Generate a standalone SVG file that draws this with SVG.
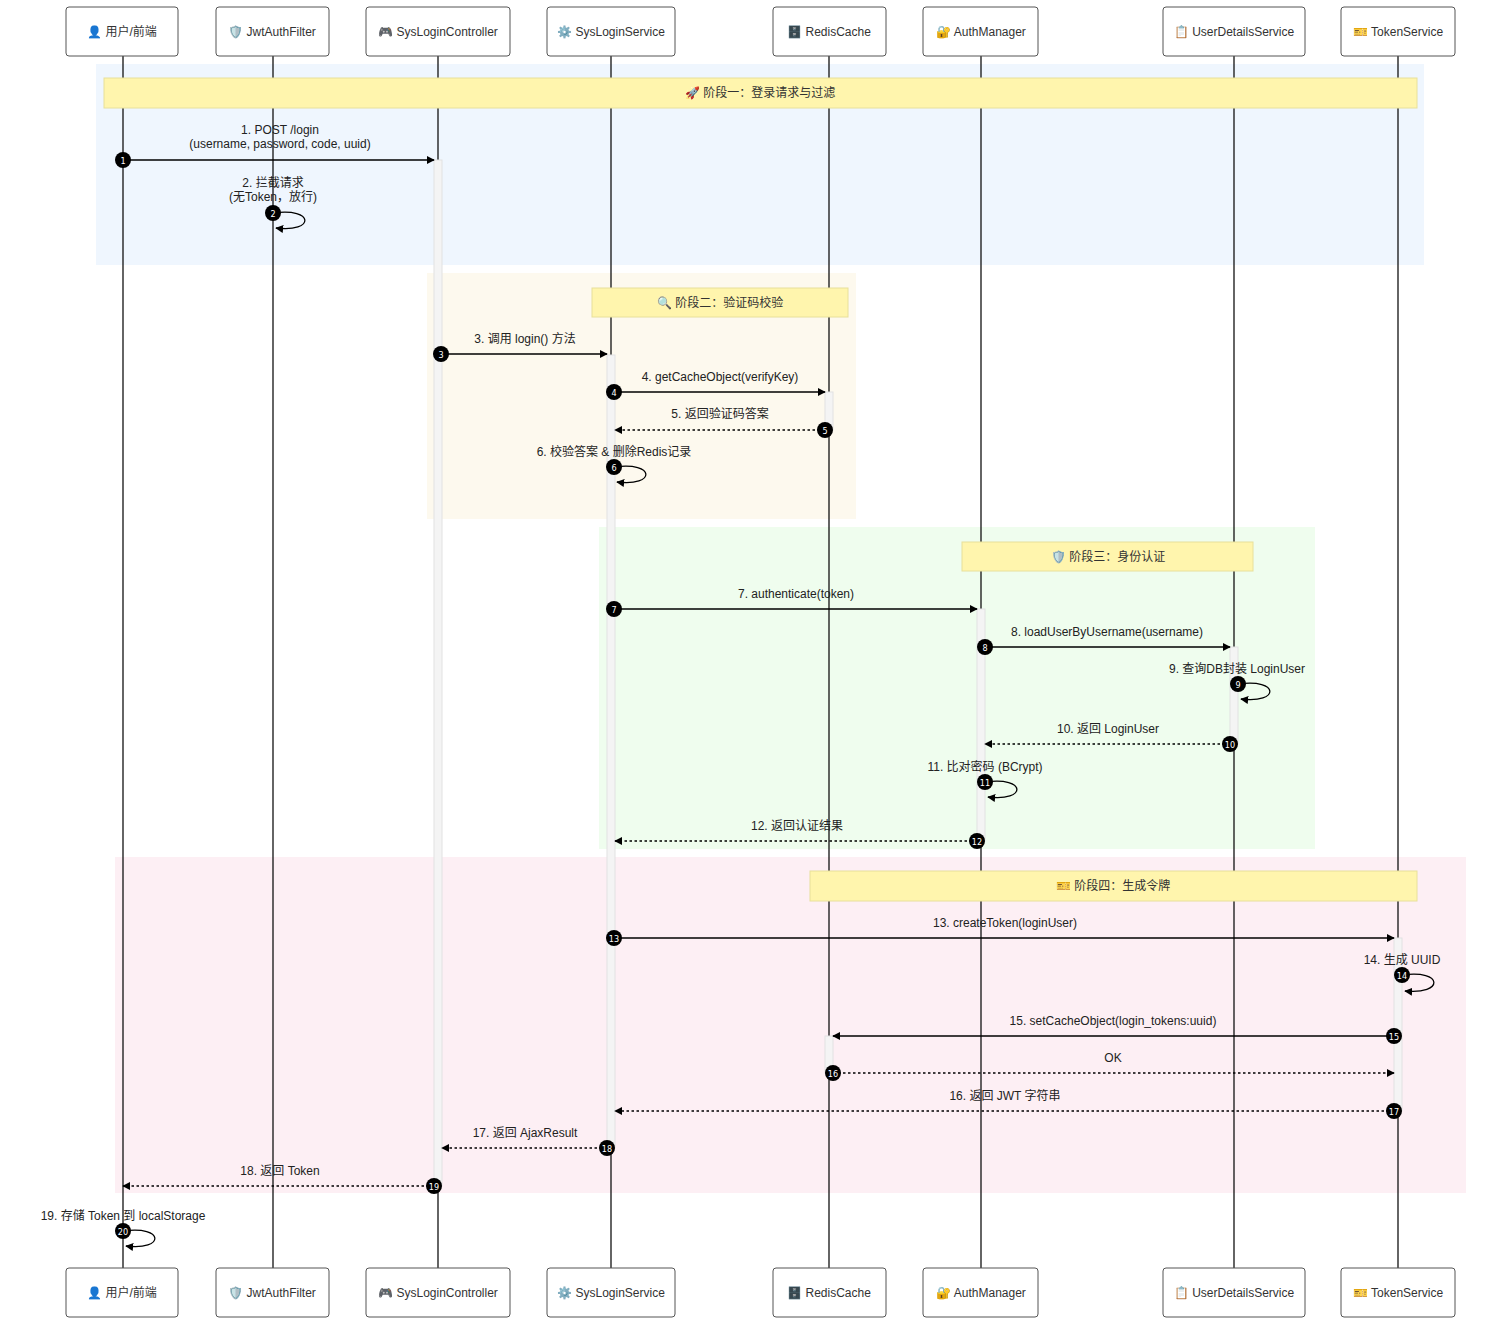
<svg xmlns="http://www.w3.org/2000/svg" width="1503" height="1325" viewBox="0 0 1503 1325">
<defs>
<marker id="ah" viewBox="0 0 10 10" refX="9" refY="5" markerWidth="8" markerHeight="8" markerUnits="userSpaceOnUse" orient="auto">
<path d="M0,0 L10,5 L0,10 z" fill="#000"/>
</marker>
<style>
text{font-family:"Liberation Sans","Noto Sans CJK SC",sans-serif;font-size:12px;fill:#333;text-anchor:middle}
.actor{fill:#fff;stroke:#555;stroke-width:1}
.life{stroke:#111;stroke-width:1.3}
.act{fill:#f4f4f4;stroke:#e2e2e2;stroke-width:1}
.note{fill:#fff5ad;stroke:#e8e09a;stroke-width:1}
.msg{stroke:#000;stroke-width:1.3;fill:none;marker-end:url(#ah)}
.dot{stroke-dasharray:2.5,2.5}
.badge circle{fill:#000}
.badge text{fill:#fff;font-size:9px;font-family:"DejaVu Sans Condensed","DejaVu Sans",sans-serif}
.lbl{fill:#222}
</style>
</defs>
<rect width="1503" height="1325" fill="#fff"/>
<g id="phases">
<rect x="96" y="64" width="1328" height="201" fill="#eff6fe"/>
<rect x="427" y="273" width="429" height="246" fill="#fdf9ee"/>
<rect x="599" y="527" width="716" height="322" fill="#effdee"/>
<rect x="115" y="857" width="1351" height="336" fill="#fdeff4"/>
</g>
<g id="lifelines">
<line class="life" x1="123" y1="56" x2="123" y2="1268"/>
<line class="life" x1="273" y1="56" x2="273" y2="1268"/>
<line class="life" x1="438" y1="56" x2="438" y2="1268"/>
<line class="life" x1="611" y1="56" x2="611" y2="1268"/>
<line class="life" x1="829" y1="56" x2="829" y2="1268"/>
<line class="life" x1="981" y1="56" x2="981" y2="1268"/>
<line class="life" x1="1234" y1="56" x2="1234" y2="1268"/>
<line class="life" x1="1398" y1="56" x2="1398" y2="1268"/>
</g>
<g id="activations">
<rect class="act" x="434" y="160" width="8" height="1026"/>
<rect class="act" x="607" y="355" width="8" height="793"/>
<rect class="act" x="825" y="392" width="8" height="38"/>
<rect class="act" x="977" y="609" width="8" height="232"/>
<rect class="act" x="1230" y="647" width="8" height="97"/>
<rect class="act" x="1394" y="938" width="8" height="173"/>
<rect class="act" x="825" y="1036" width="8" height="37"/>
</g>
<g id="labels">
<text class="lbl" x="280" y="134">1. POST /login</text>
<text class="lbl" x="280" y="148">(username, password, code, uuid)</text>
<text class="lbl" x="273" y="187">2. 拦截请求</text>
<text class="lbl" x="273" y="201">(无Token，放行)</text>
<text class="lbl" x="525" y="343">3. 调用 login() 方法</text>
<text class="lbl" x="720" y="381">4. getCacheObject(verifyKey)</text>
<text class="lbl" x="720" y="418">5. 返回验证码答案</text>
<text class="lbl" x="614" y="456">6. 校验答案 &amp; 删除Redis记录</text>
<text class="lbl" x="796" y="598">7. authenticate(token)</text>
<text class="lbl" x="1107" y="636">8. loadUserByUsername(username)</text>
<text class="lbl" x="1237" y="673">9. 查询DB封装 LoginUser</text>
<text class="lbl" x="1108" y="733">10. 返回 LoginUser</text>
<text class="lbl" x="985" y="771">11. 比对密码 (BCrypt)</text>
<text class="lbl" x="797" y="830">12. 返回认证结果</text>
<text class="lbl" x="1005" y="927">13. createToken(loginUser)</text>
<text class="lbl" x="1402" y="964">14. 生成 UUID</text>
<text class="lbl" x="1113" y="1025">15. setCacheObject(login_tokens:uuid)</text>
<text class="lbl" x="1113" y="1062">OK</text>
<text class="lbl" x="1005" y="1100">16. 返回 JWT 字符串</text>
<text class="lbl" x="525" y="1137">17. 返回 AjaxResult</text>
<text class="lbl" x="280" y="1175">18. 返回 Token</text>
<text class="lbl" x="123" y="1220">19. 存储 Token 到 localStorage</text>
</g>
<g id="notes">
<g id="note1"><rect class="note" x="104" y="78" width="1313" height="30"/><text x="760" y="97">🚀 阶段一：登录请求与过滤</text></g>
<g id="note2"><rect class="note" x="592" y="288" width="256" height="29"/><text x="720" y="307">🔍 阶段二：验证码校验</text></g>
<g id="note3"><rect class="note" x="962" y="542" width="291" height="29"/><text x="1108" y="561">🛡️ 阶段三：身份认证</text></g>
<g id="note4"><rect class="note" x="810" y="871" width="607" height="30"/><text x="1113" y="890">🎫 阶段四：生成令牌</text></g>
</g>
<g id="connectors">
<line class="msg" x1="123" y1="160" x2="434" y2="160"/>
<path class="msg" d="M273,213 C315,207 315,233 276,228"/>
<line class="msg" x1="441" y1="354" x2="607" y2="354"/>
<line class="msg" x1="614" y1="392" x2="825" y2="392"/>
<line class="msg dot" x1="825" y1="430" x2="615" y2="430"/>
<path class="msg" d="M614,467 C656,461 656,487 617,482"/>
<line class="msg" x1="614" y1="609" x2="977" y2="609"/>
<line class="msg" x1="985" y1="647" x2="1230" y2="647"/>
<path class="msg" d="M1238,684 C1280,678 1280,704 1241,699"/>
<line class="msg dot" x1="1230" y1="744" x2="985" y2="744"/>
<path class="msg" d="M985,782 C1027,776 1027,802 988,797"/>
<line class="msg dot" x1="977" y1="841" x2="615" y2="841"/>
<line class="msg" x1="614" y1="938" x2="1394" y2="938"/>
<path class="msg" d="M1402,975 C1444,969 1444,995 1405,991"/>
<line class="msg" x1="1394" y1="1036" x2="833" y2="1036"/>
<line class="msg dot" x1="833" y1="1073" x2="1394" y2="1073"/>
<line class="msg dot" x1="1394" y1="1111" x2="615" y2="1111"/>
<line class="msg dot" x1="607" y1="1148" x2="442" y2="1148"/>
<line class="msg dot" x1="434" y1="1186" x2="123" y2="1186"/>
<path class="msg" d="M123,1231 C165,1225 165,1251 126,1246"/>
</g>
<g id="badges">
<g class="badge"><circle cx="123" cy="160" r="8"/><text x="123" y="163.5">1</text></g>
<g class="badge"><circle cx="273" cy="213" r="8"/><text x="273" y="216.5">2</text></g>
<g class="badge"><circle cx="441" cy="354" r="8"/><text x="441" y="357.5">3</text></g>
<g class="badge"><circle cx="614" cy="392" r="8"/><text x="614" y="395.5">4</text></g>
<g class="badge"><circle cx="825" cy="430" r="8"/><text x="825" y="433.5">5</text></g>
<g class="badge"><circle cx="614" cy="467" r="8"/><text x="614" y="470.5">6</text></g>
<g class="badge"><circle cx="614" cy="609" r="8"/><text x="614" y="612.5">7</text></g>
<g class="badge"><circle cx="985" cy="647" r="8"/><text x="985" y="650.5">8</text></g>
<g class="badge"><circle cx="1238" cy="684" r="8"/><text x="1238" y="687.5">9</text></g>
<g class="badge"><circle cx="1230" cy="744" r="8"/><text x="1230" y="747.5">10</text></g>
<g class="badge"><circle cx="985" cy="782" r="8"/><text x="985" y="785.5">11</text></g>
<g class="badge"><circle cx="977" cy="841" r="8"/><text x="977" y="844.5">12</text></g>
<g class="badge"><circle cx="614" cy="938" r="8"/><text x="614" y="941.5">13</text></g>
<g class="badge"><circle cx="1402" cy="975" r="8"/><text x="1402" y="978.5">14</text></g>
<g class="badge"><circle cx="1394" cy="1036" r="8"/><text x="1394" y="1039.5">15</text></g>
<g class="badge"><circle cx="833" cy="1073" r="8"/><text x="833" y="1076.5">16</text></g>
<g class="badge"><circle cx="1394" cy="1111" r="8"/><text x="1394" y="1114.5">17</text></g>
<g class="badge"><circle cx="607" cy="1148" r="8"/><text x="607" y="1151.5">18</text></g>
<g class="badge"><circle cx="434" cy="1186" r="8"/><text x="434" y="1189.5">19</text></g>
<g class="badge"><circle cx="123" cy="1231" r="8"/><text x="123" y="1234.5">20</text></g>
</g>
<g id="actor-user-top"><rect class="actor" x="66" y="7" width="112" height="49" rx="3"/><text x="122" y="36">👤 用户/前端</text></g>
<g id="actor-jwt-top"><rect class="actor" x="216" y="7" width="113" height="49" rx="3"/><text x="272" y="36">🛡️ JwtAuthFilter</text></g>
<g id="actor-ctrl-top"><rect class="actor" x="366" y="7" width="144" height="49" rx="3"/><text x="438" y="36">🎮 SysLoginController</text></g>
<g id="actor-svc-top"><rect class="actor" x="547" y="7" width="128" height="49" rx="3"/><text x="611" y="36">⚙️ SysLoginService</text></g>
<g id="actor-redis-top"><rect class="actor" x="773" y="7" width="113" height="49" rx="3"/><text x="829" y="36">🗄️ RedisCache</text></g>
<g id="actor-auth-top"><rect class="actor" x="923" y="7" width="115" height="49" rx="3"/><text x="981" y="36">🔐 AuthManager</text></g>
<g id="actor-uds-top"><rect class="actor" x="1163" y="7" width="142" height="49" rx="3"/><text x="1234" y="36">📋 UserDetailsService</text></g>
<g id="actor-token-top"><rect class="actor" x="1341" y="7" width="114" height="49" rx="3"/><text x="1398" y="36">🎫 TokenService</text></g>
<g id="actor-user-bottom"><rect class="actor" x="66" y="1268" width="112" height="49" rx="3"/><text x="122" y="1297">👤 用户/前端</text></g>
<g id="actor-jwt-bottom"><rect class="actor" x="216" y="1268" width="113" height="49" rx="3"/><text x="272" y="1297">🛡️ JwtAuthFilter</text></g>
<g id="actor-ctrl-bottom"><rect class="actor" x="366" y="1268" width="144" height="49" rx="3"/><text x="438" y="1297">🎮 SysLoginController</text></g>
<g id="actor-svc-bottom"><rect class="actor" x="547" y="1268" width="128" height="49" rx="3"/><text x="611" y="1297">⚙️ SysLoginService</text></g>
<g id="actor-redis-bottom"><rect class="actor" x="773" y="1268" width="113" height="49" rx="3"/><text x="829" y="1297">🗄️ RedisCache</text></g>
<g id="actor-auth-bottom"><rect class="actor" x="923" y="1268" width="115" height="49" rx="3"/><text x="981" y="1297">🔐 AuthManager</text></g>
<g id="actor-uds-bottom"><rect class="actor" x="1163" y="1268" width="142" height="49" rx="3"/><text x="1234" y="1297">📋 UserDetailsService</text></g>
<g id="actor-token-bottom"><rect class="actor" x="1341" y="1268" width="114" height="49" rx="3"/><text x="1398" y="1297">🎫 TokenService</text></g>
</svg>
